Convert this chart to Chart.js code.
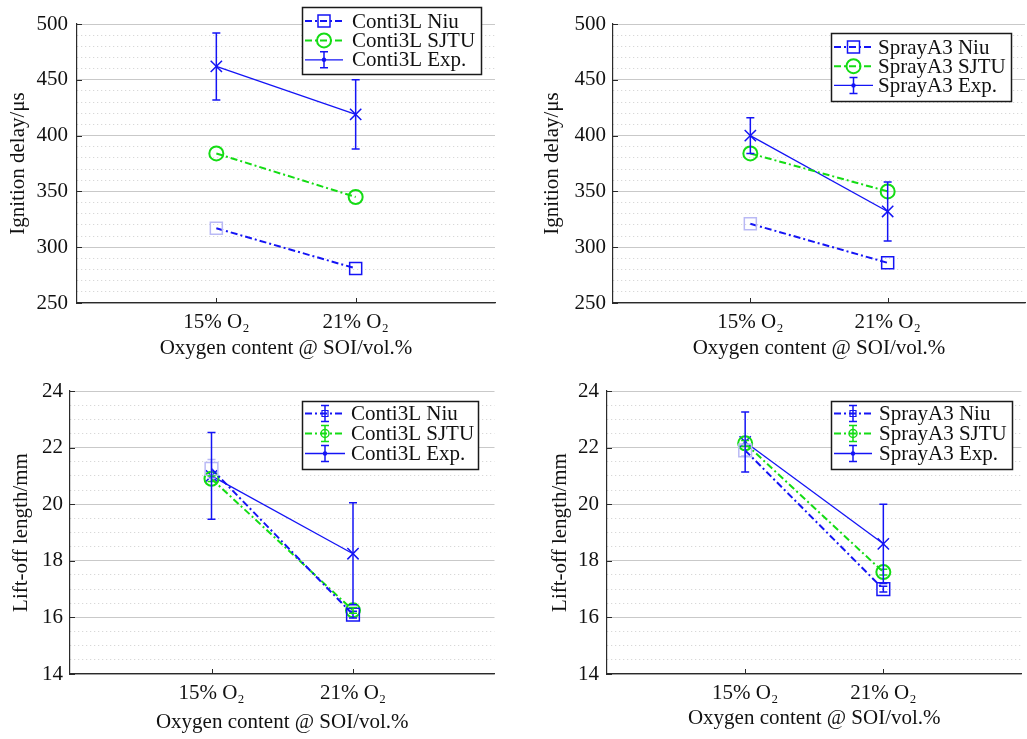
<!DOCTYPE html>
<html>
<head>
<meta charset="utf-8">
<script src="https://cdn.jsdelivr.net/npm/chart.js@4.4.1/dist/chart.umd.min.js"></script>
<style>
html,body{margin:0;padding:0;overflow:hidden;background:#fff;}
body{width:1027px;height:739px;position:relative;}
canvas{position:absolute;}
</style>
</head>
<body>
<canvas id="c1" width="501" height="370" style="left:4px;top:0px"></canvas>
<canvas id="c2" width="497" height="370" style="left:538px;top:0px"></canvas>
<canvas id="c3" width="498" height="369" style="left:7px;top:370px"></canvas>
<canvas id="c4" width="486" height="369" style="left:546px;top:370px"></canvas>
<script>
// ---------- data ----------
const categories = ['15% O\u2082', '21% O\u2082'];
const xPos = [1, 2];

const igDelayTicks = [250, 300, 350, 400, 450, 500];
const liftOffTicks = [14, 16, 18, 20, 22, 24];

// Conti3L ignition delay (µs)
const contiIgNiu = [317, 281];
const contiIgSJTU = [384, 345];
const contiIgExp = [462, 419];
const contiIgExpErr = [30, 31];

// SprayA3 ignition delay (µs)
const sprayIgNiu = [321, 286];
const sprayIgSJTU = [384, 350];
const sprayIgExp = [400, 332];
const sprayIgExpErr = [16, 26.5];

// Conti3L lift-off length (mm)
const contiLoNiu = [21.25, 16.1];
const contiLoNiuErr = [0.33, 0.12];
const contiLoSJTU = [20.9, 16.25];
const contiLoSJTUErr = [0.1, 0.1];
const contiLoExp = [21.0, 18.25];
const contiLoExpErr = [1.53, 1.8];

// SprayA3 lift-off length (mm)
const sprayLoNiu = [21.9, 17.0];
const sprayLoNiuErr = [0.2, 0.1];
const sprayLoSJTU = [22.15, 17.6];
const sprayLoSJTUErr = [0.1, 0.1];
const sprayLoExp = [22.2, 18.6];
const sprayLoExpErr = [1.06, 1.4];

// ---------- styles ----------
const BLUE = '#1414f5';
const GREEN = '#14dc14';
const FAINT = '#b9b9f5';
const AXIS = '#2a2a2a';
const FONT = "'Liberation Serif', 'Times New Roman', serif";
const FSIZE = 21;
Chart.defaults.font.family = FONT;
Chart.defaults.font.size = FSIZE;
Chart.defaults.color = '#111';
const DASHDOT = [7, 3, 2, 3];

function pts(vals) { return xPos.map((x, i) => ({x: x, y: vals[i]})); }

function makeDatasets(prefix, niu, sjtu, exp, expErr, opt) {
  return [
    {
      label: prefix + ' Niu', data: pts(niu), errors: opt.niuErr || null,
      borderColor: BLUE, borderWidth: 2, borderDash: DASHDOT,
      pointStyle: 'rect', pointRadius: opt.sqR, pointBorderWidth: 1.5,
      pointBorderColor: [FAINT, BLUE], pointBackgroundColor: 'rgba(0,0,0,0)',
      errorColor: [FAINT, BLUE],
      legendMarker: opt.errLegend ? 'smallRect' : 'rect', legendErr: !!opt.errLegend
    },
    {
      label: prefix + ' SJTU', data: pts(sjtu), errors: opt.sjtuErr || null,
      borderColor: GREEN, borderWidth: 2, borderDash: DASHDOT,
      pointStyle: 'circle', pointRadius: 7, pointBorderWidth: 2,
      pointBorderColor: GREEN, pointBackgroundColor: 'rgba(0,0,0,0)',
      errorColor: GREEN,
      legendMarker: opt.errLegend ? 'smallCircle' : 'circle', legendErr: !!opt.errLegend
    },
    {
      label: prefix + ' Exp.', data: pts(exp), errors: expErr,
      borderColor: BLUE, borderWidth: 1.3,
      pointStyle: 'crossRot', pointRadius: 8, pointBorderWidth: 1.5,
      pointBorderColor: BLUE, pointBackgroundColor: BLUE,
      errorColor: BLUE,
      legendMarker: 'dot', legendErr: true
    }
  ];
}

// ---------- plugins ----------
const errorBarPlugin = {
  id: 'errorBars',
  afterDatasetsDraw(chart) {
    const ctx = chart.ctx, ys = chart.scales.y, xs = chart.scales.x;
    chart.data.datasets.forEach(ds => {
      if (!ds.errors) return;
      ds.data.forEach((p, i) => {
        const e = ds.errors[i];
        if (!e) return;
        const x = xs.getPixelForValue(p.x);
        const y1 = ys.getPixelForValue(p.y + e), y2 = ys.getPixelForValue(p.y - e);
        const col = Array.isArray(ds.errorColor) ? ds.errorColor[i] : ds.errorColor;
        ctx.save();
        ctx.strokeStyle = col; ctx.lineWidth = 1.5;
        ctx.beginPath();
        ctx.moveTo(x, y1); ctx.lineTo(x, y2);
        ctx.moveTo(x - 4, y1); ctx.lineTo(x + 4, y1);
        ctx.moveTo(x - 4, y2); ctx.lineTo(x + 4, y2);
        ctx.stroke();
        ctx.restore();
      });
    });
  }
};

const innerTickPlugin = {
  id: 'innerTicks',
  afterDraw(chart) {
    const ctx = chart.ctx, xs = chart.scales.x, ys = chart.scales.y;
    const a = chart.chartArea;
    ctx.save();
    ctx.strokeStyle = AXIS; ctx.lineWidth = 1;
    ctx.beginPath();
    xs.ticks.forEach(t => {
      const x = Math.round(xs.getPixelForValue(t.value)) + 0.5;
      ctx.moveTo(x, a.bottom); ctx.lineTo(x, a.bottom - 5);
    });
    chart.options.majorTicks.forEach(v => {
      const y = Math.round(ys.getPixelForValue(v)) + 0.5;
      ctx.moveTo(a.left, y); ctx.lineTo(a.left + 5, y);
    });
    ctx.stroke();
    ctx.restore();
  }
};

function drawMarker(ctx, type, x, y, color) {
  ctx.save();
  ctx.strokeStyle = color; ctx.fillStyle = color; ctx.setLineDash([]);
  ctx.beginPath();
  if (type === 'rect') { ctx.lineWidth = 1.5; ctx.rect(x - 6, y - 6, 12, 12); ctx.stroke(); }
  else if (type === 'smallRect') { ctx.lineWidth = 1.2; ctx.rect(x - 3, y - 3, 6, 6); ctx.stroke(); }
  else if (type === 'circle') { ctx.lineWidth = 2; ctx.arc(x, y, 7, 0, Math.PI * 2); ctx.stroke(); }
  else if (type === 'smallCircle') { ctx.lineWidth = 1.5; ctx.arc(x, y, 4, 0, Math.PI * 2); ctx.stroke(); }
  else if (type === 'dot') { ctx.arc(x, y, 2.2, 0, Math.PI * 2); ctx.fill(); }
  ctx.restore();
}

const legendPlugin = {
  id: 'boxLegend',
  afterDraw(chart) {
    const o = chart.options.boxLegend;
    const ctx = chart.ctx;
    ctx.save();
    ctx.fillStyle = '#fff';
    ctx.fillRect(o.x, o.y, o.w, o.h);
    ctx.strokeStyle = '#1a1a1a'; ctx.lineWidth = 1.5;
    ctx.strokeRect(o.x + 0.5, o.y + 0.5, o.w, o.h);
    chart.data.datasets.forEach((ds, i) => {
      const y = o.y + o.rowY0 + i * o.rowStep;
      const x0 = o.x + o.lineX0, x1 = o.x + o.lineX1, xm = (x0 + x1) / 2;
      ctx.save();
      ctx.strokeStyle = ds.borderColor; ctx.lineWidth = ds.borderWidth;
      ctx.setLineDash(ds.borderDash || []);
      ctx.beginPath(); ctx.moveTo(x0, y); ctx.lineTo(x1, y); ctx.stroke();
      ctx.restore();
      if (ds.legendErr) {
        ctx.save();
        ctx.strokeStyle = ds.borderColor; ctx.lineWidth = 1.5; ctx.setLineDash([]);
        ctx.beginPath();
        ctx.moveTo(xm, y - 8); ctx.lineTo(xm, y + 8);
        ctx.moveTo(xm - 4, y - 8); ctx.lineTo(xm + 4, y - 8);
        ctx.moveTo(xm - 4, y + 8); ctx.lineTo(xm + 4, y + 8);
        ctx.stroke();
        ctx.restore();
      }
      drawMarker(ctx, ds.legendMarker, xm, y, ds.borderColor);
      ctx.fillStyle = '#111';
      ctx.font = FSIZE + 'px ' + FONT;
      ctx.textBaseline = 'middle';
      ctx.fillText(ds.label, o.x + o.textX, y + 1);
    });
    ctx.restore();
  }
};

function makeChart(id, datasets, cfg) {
  const majors = cfg.majors;
  const step = cfg.minorStep;
  const isMajor = v => majors.some(m => Math.abs(m - v) < 1e-6);
  return new Chart(document.getElementById(id), {
    type: 'line',
    data: {datasets: datasets},
    plugins: [errorBarPlugin, innerTickPlugin, legendPlugin],
    options: {
      responsive: false, animation: false,
      majorTicks: majors,
      boxLegend: cfg.legend,
      layout: {padding: {top: cfg.padTop, right: cfg.padRight, left: 0, bottom: 0}},
      plugins: {legend: {display: false}, tooltip: {enabled: false}},
      scales: {
        x: {
          type: 'linear', min: 0, max: 3,
          afterBuildTicks: s => { s.ticks = xPos.map(v => ({value: v})); },
          afterFit: s => { s.height = cfg.xHeight; },
          ticks: {
            autoSkip: false, maxRotation: 0, padding: cfg.xTickPad,
            callback: (v) => categories[xPos.indexOf(v)]
          },
          grid: {display: false, drawTicks: false},
          border: {display: true, color: AXIS, width: 1.2},
          title: {display: true, text: 'Oxygen content @ SOI/vol.%', padding: {top: 0, bottom: cfg.xTitlePad}, color: '#111'}
        },
        y: {
          type: 'linear', min: majors[0], max: majors[majors.length - 1],
          afterFit: s => { s.width = cfg.yWidth; },
          ticks: {
            stepSize: step, autoSkip: false, padding: cfg.yTickPad,
            callback: v => isMajor(v) ? String(v) : ''
          },
          grid: {
            drawTicks: false, lineWidth: 1,
            color: c => (c.tick && isMajor(c.tick.value)) ? '#c9c9c9' : '#cfcfcf'
          },
          border: {
            display: true, color: AXIS, width: 1.2,
            dash: c => (c.type === 'tick' && !isMajor(c.tick.value)) ? [1, 3] : []
          },
          title: {display: true, text: cfg.yTitle, padding: {top: 2, bottom: 0}, color: '#111'}
        }
      }
    }
  });
}

// Top-left
makeChart('c1',
  makeDatasets('Conti3L', contiIgNiu, contiIgSJTU, contiIgExp, contiIgExpErr, {sqR: 8.5}),
  {majors: igDelayTicks, minorStep: 10, yTitle: 'Ignition delay/\u03bcs',
   padTop: 24, padRight: 8, xHeight: 67, yWidth: 73, xTickPad: 7, xTitlePad: 9, yTickPad: 9,
   legend: {x: 298, y: 7, w: 179, h: 67, rowY0: 14, rowStep: 19.4, lineX0: 3, lineX1: 41, textX: 50}});

// Top-right
makeChart('c2',
  makeDatasets('SprayA3', sprayIgNiu, sprayIgSJTU, sprayIgExp, sprayIgExpErr, {sqR: 8.5}),
  {majors: igDelayTicks, minorStep: 10, yTitle: 'Ignition delay/\u03bcs',
   padTop: 24, padRight: 5, xHeight: 67, yWidth: 75, xTickPad: 7, xTitlePad: 9, yTickPad: 7,
   legend: {x: 293, y: 33, w: 180, h: 68, rowY0: 14, rowStep: 19.2, lineX0: 3, lineX1: 42, textX: 47}});

// Bottom-left
makeChart('c3',
  makeDatasets('Conti3L', contiLoNiu, contiLoSJTU, contiLoExp, contiLoExpErr, {sqR: 9, niuErr: contiLoNiuErr, sjtuErr: contiLoSJTUErr, errLegend: true}),
  {majors: liftOffTicks, minorStep: 0.5, yTitle: 'Lift-off length/mm',
   padTop: 21, padRight: 9, xHeight: 65, yWidth: 63, xTickPad: 7, xTitlePad: 4, yTickPad: 7,
   legend: {x: 295, y: 31, w: 176, h: 68, rowY0: 12.5, rowStep: 20, lineX0: 3, lineX1: 43, textX: 49}});

// Bottom-right
makeChart('c4',
  makeDatasets('SprayA3', sprayLoNiu, sprayLoSJTU, sprayLoExp, sprayLoExpErr, {sqR: 9, niuErr: sprayLoNiuErr, sjtuErr: sprayLoSJTUErr, errLegend: true}),
  {majors: liftOffTicks, minorStep: 0.5, yTitle: 'Lift-off length/mm',
   padTop: 21, padRight: 5, xHeight: 65, yWidth: 61, xTickPad: 7, xTitlePad: 8, yTickPad: 8,
   legend: {x: 285, y: 31, w: 181, h: 68, rowY0: 12.5, rowStep: 20, lineX0: 3, lineX1: 41, textX: 48}});
</script>
</body>
</html>
